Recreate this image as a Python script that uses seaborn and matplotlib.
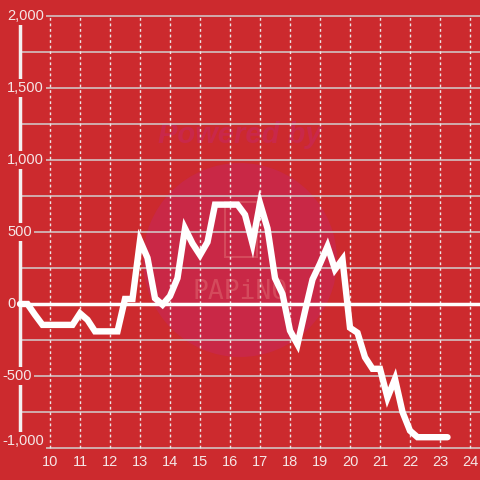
import numpy as np
import pandas as pd
import matplotlib
matplotlib.use("Agg")
import matplotlib.pyplot as plt
import seaborn as sns
from matplotlib.patches import Ellipse, FancyBboxPatch

hours = [9.00, 9.25, 9.50, 9.75, 10.00, 10.25, 10.50, 10.75, 11.00, 11.25, 11.50, 11.75,
         12.00, 12.25, 12.50, 12.75, 13.00, 13.25, 13.50, 13.75, 14.00, 14.25, 14.50, 14.75,
         15.00, 15.25, 15.50, 15.75, 16.00, 16.25, 16.50, 16.75, 17.00, 17.25, 17.50, 17.75,
         18.00, 18.25, 18.50, 18.75, 19.00, 19.25, 19.50, 19.75, 20.00, 20.25, 20.50, 20.75,
         21.00, 21.25, 21.50, 21.75, 22.00, 22.25, 22.50, 22.75, 23.00, 23.25]
values = [0, 0, -75, -145, -145, -145, -145, -145, -65, -110, -190, -190,
          -190, -190, 35, 35, 440, 320, 40, -5, 55, 180, 525, 420,
          340, 430, 690, 690, 690, 690, 620, 420, 700, 525, 180, 70,
          -185, -280, -50, 170, 280, 400, 240, 310, -165, -200, -370, -450,
          -450, -650, -520, -750, -880, -925, -925, -925, -925, -925]
x_ticks = list(range(10, 25))
y_ticks = [-1000, -500, 0, 500, 1000, 1500, 2000]
y_tick_labels = ["-1,000", "-500", "0", "500", "1,000", "1,500", "2,000"]

BG = "#CC2A2E"
sns.set_theme(style="white")
plt.rcParams["font.family"] = ["Liberation Sans", "DejaVu Sans"]

fig = plt.figure(figsize=(4.8, 4.8), dpi=100, facecolor=BG)
ax = fig.add_axes([0, 0, 1, 1])
ax.set_facecolor(BG)
for s in ax.spines.values():
    s.set_visible(False)

# pixel mapping
x0, x1 = 10 - 50 / 30, 10 + 430 / 30
ppy = 3000 / 432
y_top = 2000 + 16 * ppy
y_bot = -1000 - 32 * ppy
ax.set_xlim(x0, x1)
ax.set_ylim(y_bot, y_top)
ax.set_xticks([])
ax.set_yticks([])

# watermark
ax.add_patch(Ellipse((10 + 190 / 30, 2000 - 244 * ppy), 194 / 30, 194 * ppy,
                     facecolor="#C92846", edgecolor="none", zorder=0))
ax.text(10 + 190 / 30, 2000 - 119 * ppy, "Powered by", ha="center", va="center",
        fontsize=21, fontweight="bold", style="italic", color="#C9284A", zorder=0.5)
ax.add_patch(FancyBboxPatch((10 + 175 / 30, 2000 - 241 * ppy), 32 / 30, 55 * ppy,
                            boxstyle="round,pad=0,rounding_size=0.08",
                            facecolor="none", edgecolor="#D44A5C", lw=1.5, zorder=0.5))
ax.text(10 + 190 / 30, 2000 - 276 * ppy, "PAPiNO", ha="center", va="center",
        fontsize=19, color="#D44A5C", zorder=0.5, family="DejaVu Sans Mono")

# grid
left_x = 9.0
for v in np.arange(-1000, 2001, 250):
    ax.plot([left_x, x1], [v, v], color="#D2CFCF", lw=1.1, zorder=1)
for h in x_ticks:
    ax.plot([h, h], [-1000, 2000], color="#EDE6E6", lw=1, ls=(0, (2, 2)), zorder=1)

# axis bar and zero line
ax.plot([9.0, 9.0], [1960, -950], color="#F4F0F0", lw=2.5, zorder=2, solid_capstyle="butt")
ax.plot([9.0, x1], [0, 0], color="#FFFFFF", lw=2.5, zorder=2, solid_capstyle="butt")

df = pd.DataFrame({"hour": hours, "value": values})
sns.lineplot(data=df, x="hour", y="value", ax=ax, color="white", lw=4.6,
             zorder=3, legend=False)
ax.lines[-1].set_solid_joinstyle("miter")
ax.set_xlabel("")
ax.set_ylabel("")

# tick labels
for v, lab in zip(y_ticks, y_tick_labels):
    yy = v if v != -1000 else v + 7 * ppy
    xx = 10 - 43 / 30 if not lab.startswith("-") else 10 - 48 / 30
    ax.text(xx, yy, lab, ha="left", va="center", fontsize=10.5,
            color="#F5E6E6", zorder=4,
            bbox=dict(facecolor=BG, edgecolor="none", pad=1.5))
for h in x_ticks:
    ax.text(h, -1000 - 14 * ppy, str(h), ha="center", va="center", fontsize=10.5,
            color="#F5E6E6", zorder=4)

fig.savefig("out.png", dpi=100, facecolor=BG)
